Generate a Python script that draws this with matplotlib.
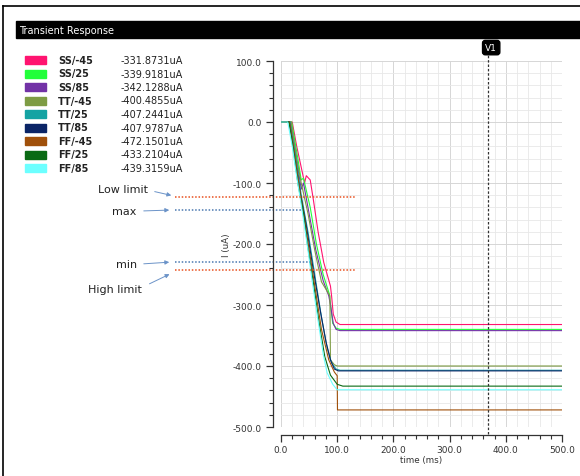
import numpy as np
import matplotlib.pyplot as plt
from matplotlib.patches import Rectangle, FancyArrowPatch
from matplotlib.ticker import MultipleLocator, FormatStrFormatter

############################
# Data
############################
names = ["SS/-45", "SS/25", "SS/85", "TT/-45", "TT/25", "TT/85", "FF/-45", "FF/25", "FF/85"]
final_vals = ["-331.8731uA", "-339.9181uA", "-342.1288uA", "-400.4855uA", "-407.2441uA",
              "-407.9787uA", "-472.1501uA", "-433.2104uA", "-439.3159uA"]
colors = ["#ff1470", "#22ff3a", "#7232a6", "#7e9c44", "#14a3a3", "#0a2466", "#a0500a", "#0a6a14", "#6cffff"]

# time (ms) / current (uA) points
t_ss45 = [0, 20, 28, 35, 42, 45, 52, 58, 66, 76, 88, 90, 93, 98, 105, 500]
i_ss45 = [0, 0, -40, -70, -100, -88, -95, -130, -180, -230, -269, -285, -315, -328, -332, -332]
t_ss25 = [0, 19, 30, 36, 40, 52, 63, 75, 86, 92, 98, 105, 500]
i_ss25 = [0, 0, -60, -95, -92, -140, -200, -250, -282, -330, -338, -340, -340]
t_ss85 = [0, 17, 26, 30, 36, 40, 50, 62, 75, 85, 88, 93, 98, 105, 500]
i_ss85 = [0, 0, -50, -75, -110, -100, -150, -210, -260, -285, -300, -330, -340, -342, -342]
t_tt45 = [0, 18, 28, 36, 48, 60, 72, 87, 88, 95, 100, 500]
i_tt45 = [0, 0, -60, -100, -150, -210, -262, -285, -390, -398, -400, -400]
t_tt25 = [0, 16, 26, 36, 48, 60, 72, 82, 90, 98, 105, 500]
i_tt25 = [0, 0, -55, -120, -180, -250, -320, -370, -395, -405, -407, -407]
t_tt85 = [0, 15, 25, 35, 45, 57, 70, 80, 88, 95, 102, 500]
i_tt85 = [0, 0, -60, -120, -170, -240, -310, -360, -390, -405, -408, -408]
t_ff45 = [0, 15, 24, 33, 42, 52, 62, 72, 85, 95, 100, 100.5, 500]
i_ff45 = [0, 0, -50, -110, -160, -220, -280, -340, -390, -410, -416, -472, -472]
t_ff25 = [0, 14, 22, 30, 40, 47, 57, 68, 78, 88, 100, 110, 500]
i_ff25 = [0, 0, -45, -100, -150, -200, -260, -330, -385, -415, -430, -433, -433]
t_ff85 = [0, 12, 20, 28, 35, 40, 48, 55, 65, 75, 82, 92, 100, 500]
i_ff85 = [0, 0, -40, -90, -130, -160, -210, -258, -320, -380, -411, -430, -439, -439]

traces_t = [t_ss45, t_ss25, t_ss85, t_tt45, t_tt25, t_tt85, t_ff45, t_ff25, t_ff85]
traces_i = [i_ss45, i_ss25, i_ss85, i_tt45, i_tt25, i_tt85, i_ff45, i_ff25, i_ff85]

# spec lines (uA) and how far they reach in time (ms)
limit_labels = ["Low limit", "max", "min", "High limit"]
limit_levels = [-123, -145, -230, -243]
limit_end = [132, 40, 52, 132]
limit_colors = ["#e8501e", "#4a78b0", "#4a78b0", "#e8501e"]

cursor_t = 368

############################
# Plot
############################
W, H = 580, 477
fig = plt.figure(figsize=(W / 100, H / 100), dpi=100)

def fx(px):
    return px / W

def fy(py):
    return 1 - py / H

# frame + title bar
fig.add_artist(plt.Line2D([fx(3), fx(3)], [0, fy(7)], color="black", lw=1.2))
fig.add_artist(plt.Line2D([fx(3), 1], [fy(7), fy(7)], color="black", lw=1.2))
fig.add_artist(Rectangle((fx(16), fy(39)), 1 - fx(16), fy(22) - fy(39), color="black",
                         transform=fig.transFigure))
fig.text(fx(19), fy(30.5), "Transient Response", color="white", fontsize=7, va="center")

ax = fig.add_axes([fx(281), fy(428), fx(562) - fx(281), fy(62) - fy(428)])
for t, i, c in zip(traces_t, traces_i, colors):
    ax.plot(t, i, color=c, lw=0.8)

ax.set_xlim(0, 500)
ax.set_ylim(-500, 100)
ax.xaxis.set_major_locator(MultipleLocator(100))
ax.xaxis.set_minor_locator(MultipleLocator(20))
ax.yaxis.set_major_locator(MultipleLocator(100))
ax.yaxis.set_minor_locator(MultipleLocator(20))
ax.xaxis.set_major_formatter(FormatStrFormatter("%.1f"))
ax.yaxis.set_major_formatter(FormatStrFormatter("%.1f"))
ax.grid(which="major", color="#d6d6d6", lw=0.7)
ax.grid(which="minor", color="#e8e8e8", lw=0.6)
ax.set_axisbelow(True)
for s in ["top", "right"]:
    ax.spines[s].set_visible(False)
ax.spines["left"].set_position(("outward", 6))
ax.spines["bottom"].set_position(("outward", 6))
for s in ["left", "bottom"]:
    ax.spines[s].set_color("#333333")
    ax.spines[s].set_linewidth(0.9)
ax.tick_params(which="major", length=5, width=0.9, color="#333333", labelsize=6.5,
               labelcolor="#333333")
ax.tick_params(which="minor", length=3, width=0.8, color="#333333")
ax.tick_params(axis="y", pad=3)
ax.tick_params(axis="x", pad=2)
ax.set_xlabel("time (ms)", fontsize=6.3, color="#333333", labelpad=1)
ax.set_ylabel("I (uA)", fontsize=6.3, color="#333333", labelpad=1)

# cursor V1
ax.plot([cursor_t, cursor_t], [-512, 112], color="#333333", lw=0.9, ls=(0, (2, 1.5)),
        clip_on=False)
ax.text(cursor_t + 6, 122, "V1", color="white", fontsize=6.5, ha="center", va="center",
        bbox=dict(boxstyle="round,pad=0.3", fc="black", ec="black"))

# spec lines
for lev, end, c in zip(limit_levels, limit_end, limit_colors):
    ax.plot([-188, end], [lev, lev], color=c, lw=1.1, ls=(0, (1, 1.2)), clip_on=False)

# spec labels with arrows (pixel positions of text and arrow ends)
label_xy = [(148, 190), (136, 212), (137, 265), (142, 290)]
arrow_from = [(152, 192), (141, 212), (141, 265), (147, 286)]
arrow_to = [(174, 197), (172, 211), (172, 263), (172, 274)]
ann = dict(arrowstyle="-|>", color="#6b93c8", lw=0.7, mutation_scale=6)
for lab, (tx, ty), (ax0, ay0), (ax1, ay1) in zip(limit_labels, label_xy, arrow_from, arrow_to):
    fig.text(fx(tx), fy(ty), lab, fontsize=8, ha="right", va="center", color="#222222")
    fig.add_artist(FancyArrowPatch((fx(ax0), fy(ay0)), (fx(ax1), fy(ay1)),
                                   transform=fig.transFigure, **ann))

# legend table
for k, (n, v, c) in enumerate(zip(names, final_vals, colors)):
    y = 61 + k * 13.5
    fig.add_artist(Rectangle((fx(25), fy(y + 4)), fx(46) - fx(25), fy(y - 4) - fy(y + 4),
                             color=c, transform=fig.transFigure))
    fig.text(fx(58), fy(y), n, fontsize=7, fontweight="bold", va="center", color="#222222")
    fig.text(fx(121), fy(y), v, fontsize=7, va="center", color="#222222")

fig.savefig("out.png", dpi=100)
